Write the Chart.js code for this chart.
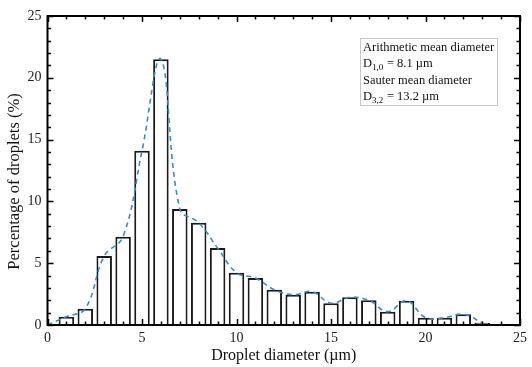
<!DOCTYPE html>
<html>
<head>
<meta charset="utf-8">
<script src="https://cdn.jsdelivr.net/npm/chart.js@4/dist/chart.umd.min.js"></script>
<style>
html,body{margin:0;padding:0;background:#fff;}
#wrap{width:532px;height:367px;position:relative;}
</style>
</head>
<body>
<div id="wrap"><canvas id="c"></canvas></div>
<script>
// Data
const diameters = [1, 2, 3, 4, 5, 6, 7, 8, 9, 10, 11, 12, 13, 14, 15, 16, 17, 18, 19, 20, 21, 22, 23];
const percentages = [0.67, 1.32, 5.58, 7.15, 14.1, 21.5, 9.38, 8.28, 6.23, 4.23, 3.8, 2.86, 2.45, 2.7, 1.76, 2.24, 2.0, 1.08, 1.97, 0.59, 0.59, 0.87, 0.19];
const fitX = [0].concat(diameters);
const fitY = [0].concat(percentages);
const xTicks = [0, 5, 10, 15, 20, 25];
const yTicks = [0, 5, 10, 15, 20, 25];
const xTitle = 'Droplet diameter (µm)';
const yTitle = 'Percentage of droplets (%)';
const annotationLines = [
  {text: 'Arithmetic mean diameter'},
  {base: 'D', sub: '1,0', rest: ' = 8.1 µm'},
  {text: 'Sauter mean diameter'},
  {base: 'D', sub: '3,2', rest: ' = 13.2 µm'}
];

const FONT = '"Liberation Serif", serif';

const framePlugin = {
  id: 'frame',
  afterDatasetsDraw(chart) {
    const {ctx, chartArea: a, scales: {x, y}} = chart;
    ctx.save();
    ctx.strokeStyle = '#000';
    ctx.lineWidth = 1.5;
    for (let v = 0; v <= 25; v++) {
      const major = v % 5 === 0;
      const len = major ? 6 : 3.5;
      const px = Math.round(x.getPixelForValue(v)) + 0.5;
      ctx.beginPath();
      ctx.moveTo(px, a.bottom); ctx.lineTo(px, a.bottom - len);
      ctx.moveTo(px, a.top); ctx.lineTo(px, a.top + len);
      ctx.stroke();
      const py = Math.round(y.getPixelForValue(v)) + 0.5;
      ctx.beginPath();
      ctx.moveTo(a.left, py); ctx.lineTo(a.left + len, py);
      ctx.moveTo(a.right, py); ctx.lineTo(a.right - len, py);
      ctx.stroke();
    }
    ctx.lineWidth = 2;
    ctx.strokeRect(a.left, a.top, a.right - a.left, a.bottom - a.top);
    ctx.restore();
  }
};

const notePlugin = {
  id: 'note',
  afterDraw(chart) {
    const {ctx, chartArea: a} = chart;
    // y-axis title
    ctx.save();
    ctx.translate(a.left - 33, (a.top + a.bottom) / 2 + 11);
    ctx.rotate(-Math.PI / 2);
    ctx.font = '16.5px ' + FONT;
    ctx.fillStyle = '#111';
    ctx.textAlign = 'center';
    ctx.textBaseline = 'middle';
    ctx.fillText(yTitle, 0, 0);
    ctx.restore();

    const left = a.left + 312.5, top = a.top + 22, w = 137, h = 67;
    ctx.save();
    ctx.fillStyle = '#fff';
    ctx.fillRect(left, top, w, h);
    ctx.strokeStyle = '#c8c8c8';
    ctx.lineWidth = 1;
    ctx.strokeRect(left + 0.5, top + 0.5, w, h);
    ctx.fillStyle = '#111';
    ctx.textBaseline = 'alphabetic';
    let yy = top + 13;
    const lh = 16.3;
    for (const ln of annotationLines) {
      let xx = left + 3;
      ctx.font = '12.5px ' + FONT;
      if (ln.text) {
        ctx.fillText(ln.text, xx, yy);
      } else {
        ctx.fillText(ln.base, xx, yy);
        xx += ctx.measureText(ln.base).width;
        ctx.font = '9px ' + FONT;
        ctx.fillText(ln.sub, xx, yy + 3);
        xx += ctx.measureText(ln.sub).width + 0.5;
        ctx.font = '12.5px ' + FONT;
        ctx.fillText(ln.rest, xx, yy);
      }
      yy += lh;
    }
    ctx.restore();
  }
};

new Chart(document.getElementById('c'), {
  data: {
    datasets: [
      {
        type: 'line',
        data: fitX.map((v, i) => ({x: v, y: fitY[i]})),
        borderColor: '#3a8cc4',
        borderWidth: 1.6,
        borderDash: [5, 4],
        pointRadius: 0,
        tension: 0.4,
        fill: false,
        order: 0
      },
      {
        type: 'bar',
        data: diameters.map((v, i) => ({x: v, y: percentages[i]})),
        backgroundColor: '#ffffff',
        borderColor: '#1a1a1a',
        borderWidth: 2,
        barPercentage: 0.82,
        categoryPercentage: 1,
        order: 1
      }
    ]
  },
  options: {
    responsive: true,
    maintainAspectRatio: false,
    animation: false,
    events: [],
    layout: {padding: {left: 0, right: 5.5, top: 16, bottom: 0}},
    plugins: {legend: {display: false}, tooltip: {enabled: false}},
    scales: {
      x: {
        type: 'linear',
        offset: false,
        min: 0, max: 25,
        afterBuildTicks: s => { s.ticks = xTicks.map(v => ({value: v})); },
        afterFit: s => { s.height = 42; },
        grid: {display: false, offset: false, drawTicks: false},
        border: {display: false},
        ticks: {font: {family: FONT, size: 14}, color: '#222', padding: 5, maxRotation: 0},
        title: {display: true, text: xTitle, font: {family: FONT, size: 16}, color: '#111', padding: {top: 0, bottom: 2}}
      },
      y: {
        type: 'linear',
        min: 0, max: 25,
        afterBuildTicks: s => { s.ticks = yTicks.map(v => ({value: v})); },
        afterFit: s => { s.width = 47.5; },
        grid: {display: false, drawTicks: false},
        border: {display: false},
        ticks: {font: {family: FONT, size: 14}, color: '#222', padding: 6},
        title: {display: false}
      }
    }
  },
  plugins: [framePlugin, notePlugin]
});
</script>
</body>
</html>
